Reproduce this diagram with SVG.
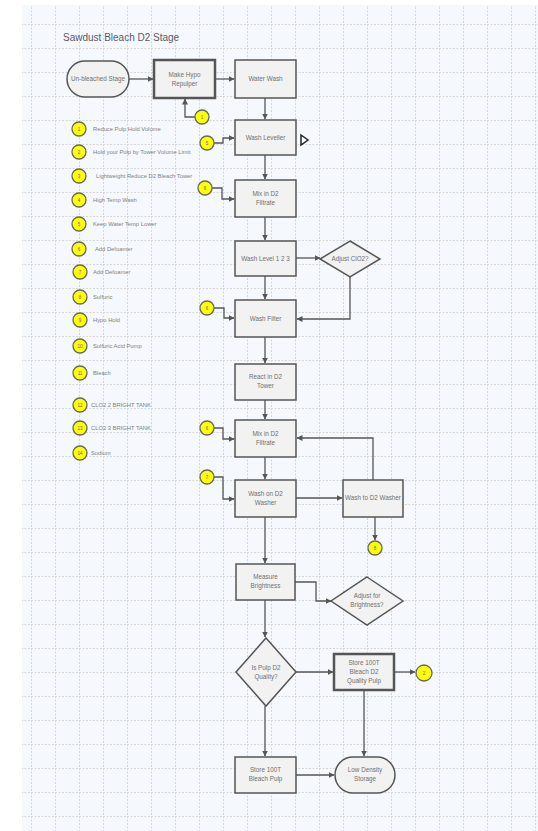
<svg xmlns="http://www.w3.org/2000/svg" width="538" height="831" viewBox="0 0 538 831">
<defs>
<pattern id="grid" x="7" y="0" width="24" height="24" patternUnits="userSpaceOnUse">
<path d="M0.5 0 V24 M0 0.5 H24" stroke="#d6d6d6" stroke-width="1" stroke-dasharray="2 1.5" fill="none"/>
</pattern>
<marker id="arr" markerWidth="6" markerHeight="6" refX="5.5" refY="3" orient="auto" markerUnits="userSpaceOnUse">
<path d="M0,0 L6,3 L0,6 Z" fill="#555"/>
</marker>
<style>
.box{fill:#f2f2f2;stroke:#555;stroke-width:1.5}
.dbl{fill:#f2f2f2;stroke:#555;stroke-width:2.5}
.t{font-family:"Liberation Sans",Arial,sans-serif;font-size:6.3px;fill:#707070;text-anchor:middle}
.lt{font-family:"Liberation Sans",Arial,sans-serif;font-size:5.8px;fill:#808080}
.num{font-family:"Liberation Sans",Arial,sans-serif;font-size:4.5px;fill:#666;text-anchor:middle}
.yc{fill:#ffff00;stroke:#666;stroke-width:1.3}
.c{fill:none;stroke:#555;stroke-width:1.3;marker-end:url(#arr)}
</style>
</defs>
<rect x="0" y="0" width="538" height="831" fill="#ffffff"/>
<rect x="22" y="5" width="516" height="826" fill="#f5f9fd"/>
<rect x="22" y="5" width="516" height="826" fill="url(#grid)"/>

<text x="63" y="41" font-family="Liberation Sans, Arial, sans-serif" font-size="10" fill="#5a5a6a">Sawdust Bleach D2 Stage</text>

<g id="connectors">
<path class="c" d="M129,79 H153"/>
<path class="c" d="M215,79 H234"/>
<path class="c" d="M195,117 H185 V99"/>
<path class="c" d="M265,98 V119"/>
<path class="c" d="M214,143 H223 V138 H234"/>
<path class="c" d="M265,155 V179"/>
<path class="c" d="M212,188 H222 V199 H234"/>
<path class="c" d="M265,217 V240"/>
<path class="c" d="M296,258 H320"/>
<path class="c" d="M265,276 V299"/>
<path class="c" d="M350,277 V319 H297"/>
<path class="c" d="M214,308 H224 V318 H234"/>
<path class="c" d="M265,337 V363"/>
<path class="c" d="M265,400 V419"/>
<path class="c" d="M214,428 H223 V439 H234"/>
<path class="c" d="M265,457 V479"/>
<path class="c" d="M214,477 H223 V499 H234"/>
<path class="c" d="M296,498 H342"/>
<path class="c" d="M373,480 V438 H297"/>
<path class="c" d="M375,517 V540"/>
<path class="c" d="M265,517 V563"/>
<path class="c" d="M295,582 H316 V601 H331"/>
<path class="c" d="M265,600 V637"/>
<path class="c" d="M296,672 H333"/>
<path class="c" d="M394,672 H415"/>
<path class="c" d="M265,706 V756"/>
<path class="c" d="M296,775 H334"/>
<path class="c" d="M364,690 V756"/>
</g>

<g id="start"><rect x="67" y="61" width="62" height="36" rx="18" class="box" stroke-width="2"/><text class="t" x="98" y="81" font-size="5.3">Un-bleached Stage</text></g>
<g id="make-hypo"><rect x="154" y="60" width="61" height="38" class="dbl"/><text class="t" x="184.5" y="77">Make Hypo</text><text class="t" x="184.5" y="86">Repulper</text></g>
<g id="water-wash"><rect x="235" y="60" width="61" height="38" class="box"/><text class="t" x="265.5" y="81">Water Wash</text></g>
<g id="wash-leveller"><rect x="235" y="120" width="61" height="35" class="box"/><text class="t" x="265.5" y="140">Wash Leveller</text></g>
<g id="marker-tri"><path d="M301,135 L308,140 L301,145 Z" fill="#fff" stroke="#222" stroke-width="1.5"/></g>
<g id="mix-d2-1"><rect x="235" y="180" width="61" height="37" class="box"/><text class="t" x="265.5" y="196">Mix in D2</text><text class="t" x="265.5" y="205">Filtrate</text></g>
<g id="wash-level"><rect x="235" y="241" width="61" height="35" class="box"/><text class="t" x="265.5" y="261">Wash Level 1 2 3</text></g>
<g id="adjust-clo2"><path d="M350,241 L380,259 L350,277 L320,259 Z" class="box"/><text class="t" x="350" y="261" font-size="5.3">Adjust ClO2?</text></g>
<g id="wash-filter"><rect x="235" y="300" width="61" height="37" class="box"/><text class="t" x="265.5" y="321">Wash Filter</text></g>
<g id="react-d2"><rect x="235" y="364" width="61" height="36" class="box"/><text class="t" x="265.5" y="379">React in D2</text><text class="t" x="265.5" y="388">Tower</text></g>
<g id="mix-d2-2"><rect x="235" y="420" width="61" height="37" class="box"/><text class="t" x="265.5" y="436">Mix in D2</text><text class="t" x="265.5" y="445">Filtrate</text></g>
<g id="wash-d2"><rect x="235" y="480" width="61" height="37" class="box"/><text class="t" x="265.5" y="496">Wash on D2</text><text class="t" x="265.5" y="505">Washer</text></g>
<g id="wash-to-d2"><rect x="343" y="480" width="60" height="37" class="box"/><text class="t" x="373" y="500" font-size="5">Wash to D2 Washer</text></g>
<g id="measure"><rect x="236" y="564" width="59" height="36" class="box"/><text class="t" x="265.5" y="579">Measure</text><text class="t" x="265.5" y="588">Brightness</text></g>
<g id="adjust-bright"><path d="M367,577 L403,601 L367,625 L331,601 Z" class="box"/><text class="t" x="367" y="598">Adjust for</text><text class="t" x="367" y="607">Brightness?</text></g>
<g id="is-pulp"><path d="M266,638 L296,672 L266,706 L236,672 Z" class="box"/><text class="t" x="266" y="670">Is Pulp D2</text><text class="t" x="266" y="679">Quality?</text></g>
<g id="store-d2"><rect x="334" y="654" width="60" height="36" class="dbl"/><text class="t" x="364" y="665">Store 100T</text><text class="t" x="364" y="674">Bleach D2</text><text class="t" x="364" y="683">Quality Pulp</text></g>
<g id="store-bleach"><rect x="235" y="757" width="61" height="36" class="box"/><text class="t" x="265.5" y="772">Store 100T</text><text class="t" x="265.5" y="781">Bleach Pulp</text></g>
<g id="low-density"><rect x="335" y="757" width="60" height="36" rx="18" class="box" stroke-width="2"/><text class="t" x="365" y="772">Low Density</text><text class="t" x="365" y="781">Storage</text></g>

<g id="flow-circles">
<circle cx="202" cy="117" r="7" class="yc"/><text class="num" x="202" y="119">1</text>
<circle cx="207" cy="143" r="7" class="yc"/><text class="num" x="207" y="145">5</text>
<circle cx="205" cy="188" r="7" class="yc"/><text class="num" x="205" y="190">6</text>
<circle cx="207" cy="308" r="7" class="yc"/><text class="num" x="207" y="310">6</text>
<circle cx="207" cy="428" r="7" class="yc"/><text class="num" x="207" y="430">6</text>
<circle cx="207" cy="477" r="7" class="yc"/><text class="num" x="207" y="479">7</text>
<circle cx="375" cy="548" r="7" class="yc"/><text class="num" x="375" y="550">8</text>
<circle cx="424" cy="673" r="8" class="yc"/><text class="num" x="424" y="675">2</text>
</g>

<g id="legend">
<circle cx="79" cy="129" r="7" class="yc"/><text class="num" x="79" y="131">1</text><text class="lt" x="93" y="131">Reduce Pulp Hold Volume</text>
<circle cx="79" cy="152" r="7" class="yc"/><text class="num" x="79" y="154">2</text><text class="lt" x="93" y="154">Hold your Pulp by Tower Volume Limit</text>
<circle cx="79" cy="176" r="7" class="yc"/><text class="num" x="79" y="178">3</text><text class="lt" x="96" y="178">Lightweight Reduce D2 Bleach Tower</text>
<circle cx="79" cy="200" r="7" class="yc"/><text class="num" x="79" y="202">4</text><text class="lt" x="93" y="202">High Temp Wash</text>
<circle cx="79" cy="224" r="7" class="yc"/><text class="num" x="79" y="226">5</text><text class="lt" x="93" y="226">Keep Water Temp Lower</text>
<circle cx="79" cy="249" r="7" class="yc"/><text class="num" x="79" y="251">6</text><text class="lt" x="95" y="251">Add Defoamer</text>
<circle cx="80" cy="272" r="7" class="yc"/><text class="num" x="80" y="274">7</text><text class="lt" x="93" y="274">Add Defoamer</text>
<circle cx="80" cy="297" r="7" class="yc"/><text class="num" x="80" y="299">8</text><text class="lt" x="93" y="299">Sulfuric</text>
<circle cx="80" cy="320" r="7" class="yc"/><text class="num" x="80" y="322">9</text><text class="lt" x="93" y="322">Hypo Hold</text>
<circle cx="80" cy="346" r="7" class="yc"/><text class="num" x="80" y="348">10</text><text class="lt" x="93" y="348">Sulfuric Acid Pump</text>
<circle cx="80" cy="373" r="7" class="yc"/><text class="num" x="80" y="375">11</text><text class="lt" x="93" y="375">Bleach</text>
<circle cx="80" cy="405" r="7" class="yc"/><text class="num" x="80" y="407">12</text><text class="lt" x="91" y="407">CLO2 2 BRIGHT TANK</text>
<circle cx="80" cy="428" r="7" class="yc"/><text class="num" x="80" y="430">13</text><text class="lt" x="91" y="430">CLO2 3 BRIGHT TANK</text>
<circle cx="80" cy="453" r="7" class="yc"/><text class="num" x="80" y="455">14</text><text class="lt" x="91" y="455">Sodium</text>
</g>
</svg>
